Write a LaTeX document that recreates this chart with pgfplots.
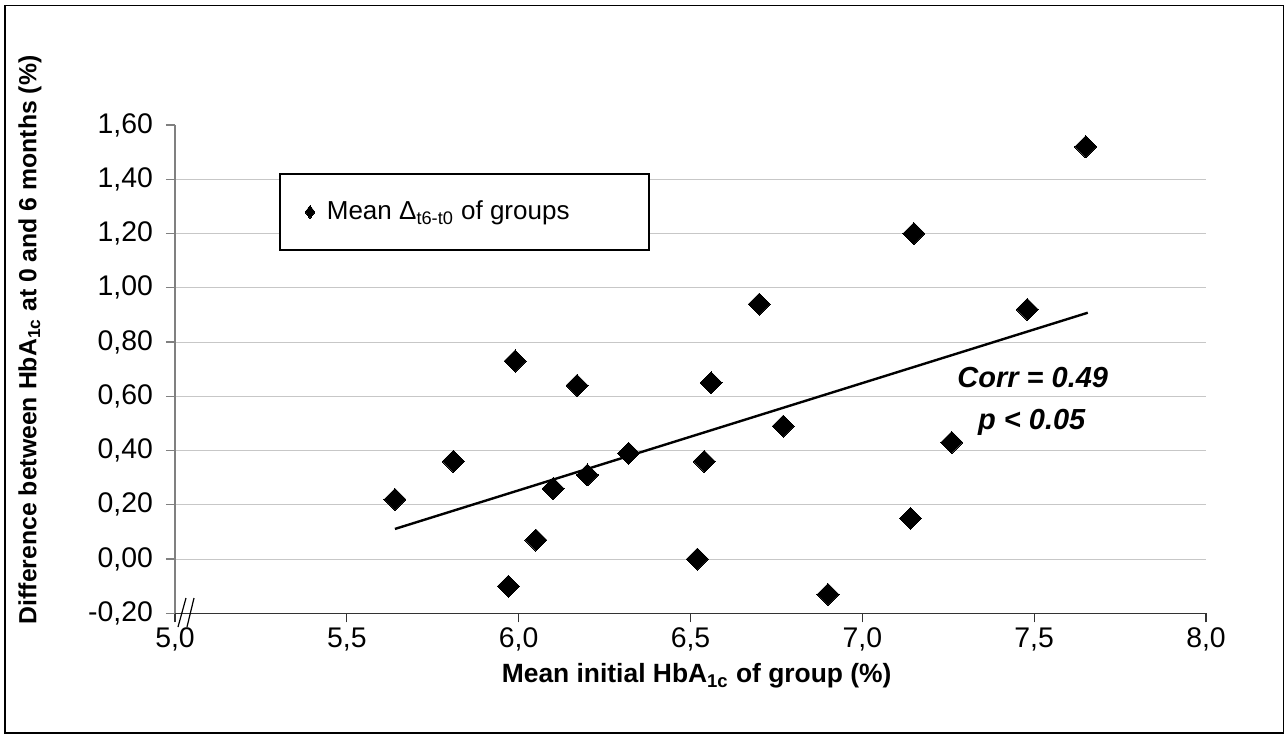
\documentclass[border=0pt]{standalone}
\usepackage{fontspec}
\setmainfont{Liberation Sans}
\usepackage{pgfplots}
\pgfplotsset{compat=1.18}
\begin{document}
\begin{tikzpicture}
\path[use as bounding box] (0pt,0pt) rectangle (642.5pt,368pt);
\draw[line width=0.85pt] (2.5pt,1.5pt) rectangle (641.7pt,365.2pt);
\begin{axis}[
  at={(87.5pt,61.35pt)}, anchor=south west,
  scale only axis, width=515.5pt, height=244.15pt,
  xmin=5, xmax=8, ymin=-0.2, ymax=1.6,
  axis lines=left,
  axis line style={-},
  x axis line style={black!80, line width=0.6pt},
  y axis line style={black!50, line width=0.6pt},
  xtick={5,5.5,6,6.5,7,7.5,8},
  ytick={-0.2,0,0.2,0.4,0.6,0.8,1.0,1.2,1.4},
  extra y ticks={1.6},
  extra y tick style={grid=none},
  ymajorgrids,
  grid style={black!22, line width=0.5pt},
  tick align=outside,
  major tick length=4.5pt,
  x tick style={black!80, line width=0.6pt},
  y tick style={black!50, line width=0.6pt},
  tick label style={font=\fontsize{14.2}{16}\selectfont},
  /pgf/number format/assume math mode=true,
  xticklabel style={yshift=0.8pt, /pgf/number format/.cd, fixed, fixed zerofill, precision=1, use comma},
  yticklabel style={xshift=-3pt, /pgf/number format/.cd, fixed, fixed zerofill, precision=2, use comma},
  extra y tick style={yticklabel style={/pgf/number format/.cd, fixed, fixed zerofill, precision=2, use comma}},
  xlabel={\bfseries Mean initial HbA\textsubscript{1c} of group (\%)},
  ylabel={\bfseries Difference between HbA\textsubscript{1c} at 0 and 6 months (\%)},
  xlabel style={font=\fontsize{13.2}{15}\selectfont, at={(axis description cs:0.506,-0.128)}, anchor=center},
  ylabel style={font=\fontsize{12.4}{14}\selectfont, at={(axis description cs:-0.1406,0.56)}, anchor=center},
  legend style={at={(0.1009,0.9017)}, anchor=north west, draw=black, line width=0.9pt,
    font=\fontsize{13}{15}\selectfont, inner xsep=12.6pt, inner ysep=13.6pt,
    nodes={inner sep=0pt}},
  legend cell align=left,
  legend image code/.code={\draw[mark=diamond*, mark size=3.25pt, mark options={fill=black, draw=black, line width=0pt}] plot coordinates {(0pt,0pt)};},
  clip=false,
]
\addplot[only marks, mark=square*, mark size=3.9pt, mark options={rotate=45, fill=black, draw=black, line width=0pt}]
coordinates {
(5.64,0.22) (5.81,0.36) (5.97,-0.10) (5.99,0.73) (6.05,0.07)
(6.10,0.26) (6.17,0.64) (6.20,0.31) (6.32,0.39) (6.52,0.00)
(6.54,0.36) (6.56,0.65) (6.70,0.94) (6.77,0.49) (6.90,-0.13)
(7.14,0.15) (7.15,1.20) (7.26,0.43) (7.48,0.92) (7.65,1.52)
};
\addlegendentry{\hspace*{6pt}Mean Δ\textsubscript{t6-t0} of groups\hspace*{27pt}}
\addplot[black, line width=1.2pt, no marks, forget plot] coordinates {(5.64,0.111) (7.656,0.908)};
\node[font=\fontsize{14.5}{16}\selectfont\bfseries\itshape] at (axis cs:7.496,0.671) {Corr = 0.49};
\node[font=\fontsize{14.5}{16}\selectfont\bfseries\itshape] at (axis cs:7.493,0.502) {p < 0.05};
\end{axis}
\draw[line width=0.6pt] (93pt,69pt) -- (89pt,54.5pt);
\draw[line width=0.6pt] (97pt,69pt) -- (93.5pt,54.5pt);
\end{tikzpicture}
\end{document}
